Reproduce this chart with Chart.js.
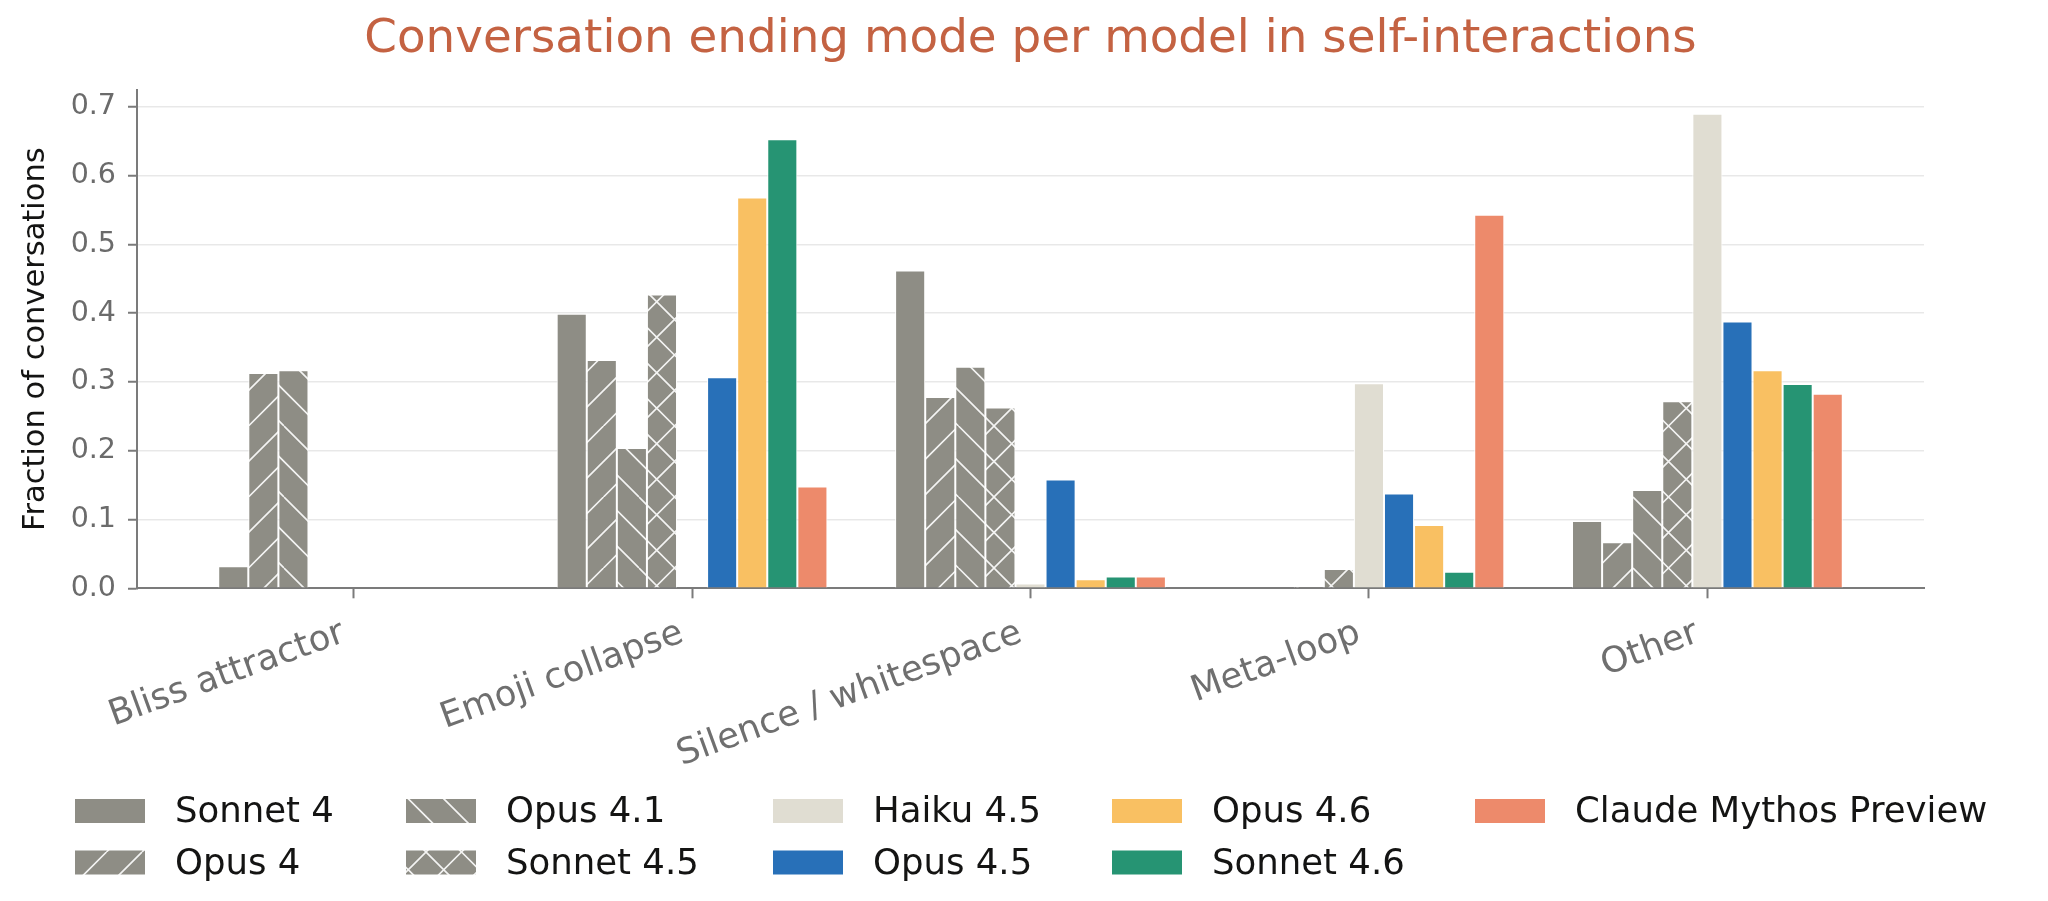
<!DOCTYPE html>
<html>
<head>
<meta charset="utf-8">
<title>Conversation ending mode per model in self-interactions</title>
<script src="https://cdn.jsdelivr.net/npm/chart.js@4.4.1/dist/chart.umd.min.js"></script>
<style>
    body { margin: 0; background: #ffffff; }
    #chart-modes { display: block; }
</style>
</head>
<body>
<canvas id="chart-modes" width="2048" height="901"></canvas>
<script>
var categories = ["Bliss attractor", "Emoji collapse", "Silence / whitespace", "Meta-loop", "Other"];
var yTicks = [0, 0.1, 0.2, 0.3, 0.4, 0.5, 0.6, 0.7];

var models = ["Sonnet 4", "Opus 4", "Opus 4.1", "Sonnet 4.5", "Haiku 4.5", "Opus 4.5", "Opus 4.6", "Sonnet 4.6", "Claude Mythos Preview"];

var sonnet4 = [0.032, 0.399, 0.462, 0, 0.098];
var opus4 = [0.313, 0.332, 0.278, 0, 0.067];
var opus41 = [0.317, 0.204, 0.322, 0.003, 0.143];
var sonnet45 = [0, 0.427, 0.263, 0.028, 0.272];
var haiku45 = [0, 0, 0.007, 0.298, 0.69];
var opus45 = [0, 0.307, 0.158, 0.138, 0.388];
var opus46 = [0, 0.568, 0.013, 0.092, 0.317];
var sonnet46 = [0, 0.653, 0.017, 0.024, 0.297];
var mythos = [0, 0.148, 0.017, 0.543, 0.283];

var GRAY = "#8e8d85";
var AXIS = "#7b7b7b";

var canvas = document.getElementById("chart-modes");
var ctx = canvas.getContext("2d");

// matplotlib-like hatch: "/" , "\" or "x", white lines on gray
function hatch(kind) {
    var size = 71, step = 35.5;
    var tile = document.createElement("canvas");
    tile.width = size;
    tile.height = size;
    var g = tile.getContext("2d");
    g.fillStyle = GRAY;
    g.fillRect(0, 0, size, size);
    g.strokeStyle = "rgba(255,255,255,0.9)";
    g.lineWidth = 1.6;
    g.beginPath();
    for (var k = -2; k <= 2; k++) {
        var o = k * step;
        if (kind === "/" || kind === "x") {
            g.moveTo(o, size);
            g.lineTo(o + size, 0);
        }
        if (kind === "\\" || kind === "x") {
            g.moveTo(o, 0);
            g.lineTo(o + size, size);
        }
    }
    g.stroke();
    return ctx.createPattern(tile, "repeat");
}

var fills = [GRAY, hatch("/"), hatch("\\"), hatch("x"), "#e0ddd2", "#2870b8", "#f9c062", "#269473", "#ed8a6b"];
var series = [sonnet4, opus4, opus41, sonnet45, haiku45, opus45, opus46, sonnet46, mythos];

// legend laid out in columns (2 rows), like the matplotlib one
var columnLegend = {
    id: "columnLegend",
    afterDraw: function(chart, args, opts) {
        var c = chart.ctx;
        c.save();
        c.font = opts.fontSize + "px 'DejaVu Sans'";
        c.textBaseline = "middle";
        c.textAlign = "left";
        chart.data.datasets.forEach(function(ds, i) {
            var col = Math.floor(i / opts.rows);
            var row = i % opts.rows;
            var x = opts.columns[col];
            var y = opts.rowY[row];
            c.fillStyle = ds.backgroundColor;
            c.fillRect(x, y - opts.boxHeight / 2, opts.boxWidth, opts.boxHeight);
            c.fillStyle = opts.color;
            c.fillText(ds.label, x + opts.textGap, y + 2);
        });
        c.restore();
    }
};

Chart.defaults.font.family = "'DejaVu Sans'";

new Chart(ctx, {
    type: "bar",
    plugins: [columnLegend],
    data: {
        labels: categories.map(function(c, i) { return i; }),
        datasets: models.map(function(name, i) {
            return {
                label: name,
                data: series[i],
                backgroundColor: fills[i],
                borderColor: "#ffffff",
                borderWidth: 1,
                categoryPercentage: 0.8,
                barPercentage: 1.0
            };
        })
    },
    options: {
        responsive: false,
        animation: false,
        layout: {
            padding: { left: 0, right: 124, top: 0, bottom: 123 }
        },
        plugins: {
            legend: { display: false },
            tooltip: { enabled: false },
            title: {
                display: true,
                fullSize: false,
                text: "Conversation ending mode per model in self-interactions",
                color: "#c46242",
                font: { size: 46.8, weight: "normal", lineHeight: 1.2 },
                padding: { top: 12, bottom: 21.8 }
            },
            columnLegend: {
                rows: 2,
                columns: [75, 406, 773, 1112, 1475],
                rowY: [811, 862.5],
                boxWidth: 70,
                boxHeight: 24,
                textGap: 100,
                fontSize: 35.5,
                color: "#141413"
            }
        },
        scales: {
            x: {
                type: "linear",
                min: -0.64,
                max: 4.64,
                offset: false,
                z: 1,
                afterBuildTicks: function(scale) {
                    scale.ticks = categories.map(function(c, i) { return { value: i }; });
                },
                afterFit: function(scale) {
                    scale.height = 189.7;
                },
                grid: {
                    display: true,
                    offset: false,
                    drawOnChartArea: false,
                    drawTicks: true,
                    tickLength: 10,
                    tickWidth: 2,
                    tickColor: AXIS
                },
                border: { display: true, color: AXIS, width: 2 },
                ticks: {
                    autoSkip: false,
                    maxRotation: 20,
                    minRotation: 20,
                    padding: 14,
                    labelOffset: -10,
                    color: "#6f6f6f",
                    font: { size: 35.5 },
                    callback: function(value) {
                        return categories[value];
                    }
                }
            },
            y: {
                min: 0,
                max: 0.7245,
                z: 1,
                afterBuildTicks: function(scale) {
                    scale.ticks = yTicks.map(function(v) { return { value: v }; });
                },
                afterFit: function(scale) {
                    scale.width = 137;
                },
                grid: {
                    display: true,
                    drawOnChartArea: true,
                    drawTicks: true,
                    tickLength: 9,
                    tickWidth: 2,
                    tickColor: AXIS,
                    lineWidth: 1.5,
                    color: function(c) {
                        return c.tick && c.tick.value === 0 ? "rgba(0,0,0,0)" : "rgba(0,0,0,0.09)";
                    }
                },
                border: { display: true, color: AXIS, width: 2 },
                ticks: {
                    padding: 12,
                    color: "#6b6b6b",
                    font: { size: 28.5 },
                    callback: function(value) {
                        return Number(value).toFixed(1);
                    }
                },
                title: {
                    display: true,
                    text: "Fraction of conversations",
                    color: "#141413",
                    font: { size: 30.5 },
                    padding: { top: 18, bottom: 0 }
                }
            }
        }
    }
});
</script>
</body>
</html>
